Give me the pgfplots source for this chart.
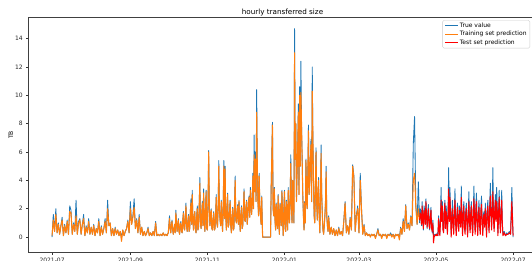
\documentclass[border=0pt]{standalone}
\usepackage{pgfplots}
\pgfplotsset{compat=1.18}
\usepackage{pgfplotstable}
\usepackage{fontspec}
\setmainfont{DejaVu Sans}
\definecolor{mblue}{RGB}{31,119,180}
\definecolor{morange}{RGB}{255,127,14}
\definecolor{mred}{RGB}{255,0,0}
% d = days since 2021-07-01, t = true value, p = prediction (train < 291 <= test)
\pgfplotstableread{
d t p
0 0.0 0.1
1 1.6 1.2
2 0.4 0.4
3 2.0 1.6
4 0.3 0.3
5 1.0 0.9
6 0.2 0.2
7 0.8 0.8
8 1.4 1.2
9 0.1 0.1
10 0.9 0.8
11 0.3 0.3
12 1.2 1.1
13 0.2 0.2
14 2.2 1.8
15 1.9 1.7
16 0.2 0.2
17 1.0 0.9
18 0.4 0.4
19 2.6 1.5
20 0.2 0.2
21 1.1 1.0
22 1.3 1.2
23 0.2 0.2
24 0.9 0.9
25 1.6 1.3
26 0.1 0.1
27 0.8 0.7
28 0.3 0.3
29 1.3 1.1
30 0.2 0.2
31 0.7 0.7
32 0.2 0.2
33 0.9 0.8
34 0.1 0.1
35 0.6 0.6
36 0.3 0.3
37 1.3 1.1
38 0.1 0.1
39 0.8 0.7
40 0.2 0.2
41 0.6 0.6
42 1.3 1.1
43 0.3 0.3
44 2.6 2.0
45 0.8 0.8
46 1.0 1.0
47 0.1 0.1
48 0.6 0.6
49 0.1 0.1
50 0.7 0.6
51 0.2 0.2
52 0.5 0.5
53 0.1 0.1
54 0.4 0.4
55 0.0 -0.3
56 0.5 0.5
57 0.1 0.1
58 0.4 0.4
59 0.6 0.6
60 1.2 1.1
61 0.3 0.3
62 2.5 2.0
63 0.9 0.9
64 1.5 1.4
65 2.7 2.1
66 0.6 0.6
67 1.3 1.2
68 0.3 0.3
69 1.6 1.4
70 0.2 0.2
71 0.7 0.7
72 0.1 0.1
73 0.4 0.4
74 0.1 0.1
75 0.3 0.3
76 0.7 0.6
77 0.1 0.1
78 0.3 0.3
79 0.1 0.1
80 0.4 0.4
81 0.1 0.1
82 1.1 1.0
83 0.1 0.1
84 0.2 0.2
85 0.1 0.1
86 0.2 0.2
87 0.1 0.1
88 0.3 0.3
89 0.1 0.1
90 0.2 0.2
91 0.1 0.1
92 0.3 0.3
93 1.5 1.3
93.5 0.6 0.6
94 0.3 0.3
94.5 0.9 0.9
95 1.2 1.1
95.5 0.5 0.5
96 0.2 0.2
96.5 0.6 0.6
97 0.9 0.9
97.5 0.3 0.3
98 1.9 1.7
98.5 1.1 1.1
99 0.4 0.4
99.5 0.8 0.8
100 1.3 1.2
100.5 0.4 0.4
101 0.2 0.2
101.5 0.9 0.9
102 1.1 1.0
102.5 0.4 0.4
103 0.3 0.3
103.5 1.2 1.2
104 1.8 1.7
104.5 0.6 0.6
105 0.5 0.5
105.5 1.5 1.4
106 2.4 2.2
106.5 0.8 0.8
107 0.4 0.4
107.5 1.1 1.1
108 1.6 1.5
108.5 0.4 0.4
109 0.6 0.6
109.5 1.9 1.8
110 2.7 2.4
110.5 0.9 0.9
111 3.3 3.0
111.5 1.2 1.2
112 0.5 0.5
112.5 1.4 1.4
113 1.8 1.8
113.5 0.6 0.6
114 0.3 0.3
114.5 1.5 1.4
115 2.2 2.0
115.5 0.5 0.5
116 0.7 0.7
116.5 2.3 2.2
117 4.2 3.8
117.5 1.0 1.0
118 0.6 0.6
118.5 1.6 1.6
119 2.5 2.4
119.5 0.8 0.8
120 3.4 3.1
120.5 1.2 1.2
121 0.4 0.4
121.5 2.0 1.9
122 3.3 3.2
122.5 0.6 0.6
123 0.5 0.5
123.5 2.5 2.4
124 6.1 6.0
124.5 2.2 2.2
125 0.8 0.8
125.5 1.4 1.4
126 2.0 1.9
126.5 0.6 0.6
127 0.5 0.5
127.5 1.3 1.3
128 1.8 1.7
128.5 0.5 0.5
129 0.6 0.6
129.5 1.6 1.6
130 3.0 2.8
130.5 1.0 1.0
131 0.7 0.7
131.5 2.1 2.0
132 5.4 5.0
132.5 2.0 2.0
133 1.2 1.2
133.5 0.8 0.8
134 2.6 2.5
134.5 1.2 1.2
135 0.4 0.4
135.5 2.2 2.1
136 5.4 5.0
136.5 1.3 1.3
137 5.0 4.8
137.5 1.6 1.6
138 0.5 0.5
138.5 1.8 1.8
139 3.1 3.0
139.5 0.7 0.7
140 0.9 0.9
140.5 1.9 1.8
141 2.6 2.5
141.5 0.8 0.8
142 0.3 0.3
142.5 1.4 1.4
143 2.1 2.0
143.5 0.5 0.5
144 0.6 0.6
144.5 2.5 2.4
145 4.3 4.0
145.5 1.2 1.2
146 1.0 1.0
146.5 1.7 1.7
147 2.3 2.2
147.5 0.9 0.9
148 2.6 2.5
148.5 1.3 1.3
149 0.4 0.4
149.5 1.6 1.6
150 2.2 2.1
150.5 0.6 0.6
151 0.8 0.8
151.5 2.0 2.0
152 3.4 3.2
152.5 1.2 1.2
153 1.1 1.1
153.5 2.1 2.1
154 2.6 2.5
154.5 0.9 0.9
155 1.5 1.5
155.5 2.5 2.4
156 2.9 2.8
156.5 1.4 1.4
157 3.5 3.3
157.5 2.4 2.4
158 1.6 1.6
158.5 2.8 2.7
159 4.5 4.3
159.5 2.0 2.0
160 7.2 5.8
160.5 3.2 3.2
161 6.0 5.5
161.5 2.5 2.5
162 10.4 8.8
162.5 5.0 5.0
163 2.5 2.5
163.5 1.5 1.5
164 4.5 4.3
164.5 2.2 2.2
165 1.6 1.6
165.5 0.9 0.9
166 2.9 2.8
166.7 0.0 0.0
173 0.0 0.0
173.5 3.8 3.5
174.5 8.1 7.9
175 2.0 2.0
175.5 1.5 1.5
176 3.5 3.4
176.5 1.2 1.2
177 0.5 0.5
177.5 2.4 2.3
178 1.3 1.2
178.5 0.6 0.6
179 3.0 2.9
179.5 1.1 1.1
180 0.2 0.2
180.5 2.4 2.3
181 1.8 1.7
181.5 0.8 0.8
182 3.3 3.2
182.5 1.5 1.5
183 0.1 0.1
183.5 1.9 1.9
184 3.3 3.2
184.5 0.6 0.6
185 0.4 0.4
185.5 2.6 2.5
186 1.8 1.7
186.5 0.5 0.5
187 3.5 3.3
187.5 1.6 1.6
188 1.0 1.0
188.5 2.8 2.8
189 5.8 5.2
189.5 2.2 2.2
190 1.0 1.0
190.5 4.0 4.0
191 3.3 3.2
191.5 1.0 1.0
192 14.7 13.0
192.5 5.5 5.5
193 8.0 8.0
193.5 2.5 2.5
194 4.5 4.5
194.5 6.5 6.5
195 9.4 8.8
195.5 3.0 3.0
196 10.6 10.0
196.5 5.0 5.0
197 12.4 10.2
197.5 8.0 8.0
198 5.5 5.5
198.5 3.0 3.0
199 1.5 1.5
199.5 0.5 0.5
200 2.5 2.4
200.5 1.0 1.0
201 5.5 5.4
201.5 3.0 3.0
202 2.0 2.0
202.5 4.5 4.5
203 7.9 7.5
203.5 3.0 3.0
204 4.0 4.0
204.5 5.5 5.5
205 6.9 6.5
205.5 2.5 2.5
206 12.0 10.3
206.5 7.0 7.0
207 4.0 4.0
207.5 1.5 1.5
208 1.0 1.0
208.5 3.5 3.5
209 6.3 6.0
209.5 2.5 2.5
210 1.2 1.2
210.5 3.0 3.0
211 4.2 4.0
211.5 1.5 1.5
212 0.3 0.3
212.5 2.5 2.5
213 6.5 5.9
213.5 3.0 3.0
214 1.5 1.5
214.5 0.5 0.5
215 0.2 0.2
215.5 0.8 0.8
216 1.5 1.5
216.5 2.5 2.5
217 5.0 4.6
217.5 1.5 1.5
218 0.8 0.8
218.5 0.4 0.4
219 1.5 1.4
220 0.2 0.2
221 0.7 0.7
222 0.2 0.2
223 0.6 0.6
224 0.1 0.1
225 0.5 0.5
226 0.1 0.1
227 0.7 0.6
228 0.2 0.2
229 0.4 0.4
230 0.1 0.1
231 1.2 1.1
232 2.5 2.4
233 0.3 0.3
234 0.8 0.8
235 0.2 0.2
236 1.4 1.3
237 0.5 0.5
238 5.1 5.0
239 4.3 4.1
240 0.4 0.4
241 1.6 1.5
242 2.2 2.0
243 0.3 0.3
244 4.5 4.0
245 2.0 1.9
246 0.2 0.2
247 0.9 0.8
248 0.1 0.1
249 0.3 0.3
250 0.1 0.1
251 0.2 0.2
252 0.1 0.0
253 0.2 0.2
254 0.1 0.1
255 0.2 0.2
256 0.0 -0.1
257 0.2 0.2
258 0.6 0.5
259 0.1 0.1
260 0.2 0.2
261 0.0 -0.1
262 0.2 0.2
263 0.1 0.1
264 0.2 0.2
265 0.0 -0.1
266 0.2 0.2
267 0.1 0.1
268 0.3 0.2
269 0.1 0.0
270 0.2 0.2
271 0.0 -0.1
272 0.2 0.2
273 0.1 0.1
274 0.2 0.2
275 0.0 -0.2
276 0.7 0.6
277 0.2 0.2
278 1.3 1.1
279 0.4 0.4
280 2.3 2.2
281 0.6 0.6
282 1.0 0.9
283 0.5 0.5
284 1.5 1.4
285 0.8 0.8
286 6.6 4.0
287 8.5 4.5
288 2.2 2.2
289 0.9 0.9
290 3.9 2.0
291 1.0 1.2
291.5 2.0 1.7
292 1.8 1.5
292.5 0.8 0.9
293 2.5 2.2
293.5 1.3 1.2
294 0.5 0.6
294.5 2.2 1.9
295 1.9 1.6
295.5 0.9 0.9
296 2.7 2.5
296.5 1.5 1.4
297 0.6 0.7
297.5 1.8 1.6
298 2.3 2.0
298.5 0.9 0.8
299 0.5 0.6
299.5 1.6 1.4
300 2.1 1.9
300.5 0.7 0.6
301 0.3 0.4
301.5 1.2 1.0
302 0.1 -0.4
302.5 0.1 0.0
303 0.2 0.1
303.5 0.2 0.1
304 0.1 0.2
304.5 0.2 0.1
305 0.3 0.2
305.5 0.1 0.1
306 1.5 1.3
306.5 0.8 0.6
307 0.2 0.1
307.5 1.3 1.0
308 3.5 2.6
308.5 1.2 1.1
309 2.5 2.2
309.5 0.6 0.5
310 0.4 0.3
310.5 1.9 1.7
311 2.6 2.4
311.5 0.7 0.6
312 2.2 1.8
312.5 1.5 1.3
313 0.3 0.2
313.5 1.8 1.5
314 4.9 3.4
314.5 1.2 1.1
315 3.5 2.8
315.5 1.9 1.7
316 0.2 0.0
316.5 1.4 1.2
317 2.6 2.0
317.5 0.9 0.8
318 0.5 0.2
318.5 2.0 1.7
319 3.4 2.6
319.5 1.2 1.0
320 0.3 0.1
320.5 1.6 1.4
321 2.4 2.1
321.5 0.9 0.8
322 0.6 0.4
322.5 2.2 1.9
323 1.9 1.6
323.5 0.8 0.7
324 3.6 2.8
324.5 1.5 1.3
325 0.3 0.1
325.5 1.8 1.6
326 2.5 2.2
326.5 0.8 0.7
327 0.4 0.2
327.5 1.9 1.6
328 2.4 2.0
328.5 1.0 0.9
329 0.2 0.0
329.5 1.7 1.5
330 3.2 2.5
330.5 1.2 1.0
331 0.5 0.3
331.5 2.0 1.7
332 2.5 2.2
332.5 0.9 0.8
333 0.3 0.1
333.5 1.8 1.6
334 3.6 2.7
334.5 1.4 1.2
335 0.4 0.2
335.5 2.2 1.9
336 3.1 2.5
336.5 1.0 0.9
337 0.3 0.1
337.5 1.7 1.5
338 2.6 2.1
338.5 0.9 0.8
339 0.4 0.2
339.5 2.0 1.8
340 2.9 2.3
340.5 1.1 1.0
341 0.3 0.1
341.5 1.6 1.4
342 1.8 1.6
342.5 0.8 0.7
343 2.4 2.0
343.5 1.2 1.0
344 0.2 0.0
344.5 1.9 1.7
345 2.6 2.2
345.5 1.1 1.0
346 0.5 0.3
346.5 2.4 2.1
347 3.8 2.9
347.5 1.6 1.5
348 0.7 0.5
348.5 2.3 2.0
349 4.9 3.2
349.5 1.5 1.3
350 0.6 0.4
350.5 2.0 1.9
351 3.0 2.6
351.5 1.2 1.1
352 3.5 2.5
352.5 2.0 1.8
353 0.3 0.1
353.5 1.8 1.6
354 3.3 2.8
354.5 1.3 1.2
355 0.5 0.3
355.5 2.0 1.8
356 3.3 2.6
356.5 1.0 0.9
357 0.2 0.1
358 0.4 0.3
359 0.1 0.1
360 0.3 0.2
361 0.2 0.2
362 0.4 0.3
363 0.2 0.2
364 3.5 2.5
365 0.0 0.1
}\datatab

\begin{document}
\begin{tikzpicture}
\begin{axis}[
  at={(0,0)}, anchor=south west,
  scale only axis, width=508.4pt, height=235.4pt,
  xmin=-18.8, xmax=383.7, ymin=-1.1, ymax=15.5,
  xtick={0,62,123,184,243,304,365},
  xticklabels={2021-07,2021-09,2021-11,2022-01,2022-03,2022-05,2022-07},
  ytick={0,2,4,6,8,10,12,14},
  tick align=outside, tick pos=left,
  major tick length=2.1pt,
  tick style={black!80, line width=0.5pt},
  axis line style={black!75, line width=0.5pt},
  ticklabel style={font=\fontsize{6}{7}\selectfont, text=black!85},
  /pgf/number format/assume math mode=true,
  title={hourly transferred size},
  title style={font=\fontsize{7.2}{8}\selectfont, at={(axis description cs:0.5,1)}, anchor=base, yshift=-3.2pt, inner sep=0pt},
  ylabel={TB},
  ylabel style={font=\fontsize{6}{7}\selectfont, at={(axis description cs:0,0.5)}, anchor=center, yshift=17.3pt},
  legend style={at={(rel axis cs:0.987,0.9885)}, anchor=north east, font=\fontsize{6}{7}\selectfont, draw=black!20, rounded corners=1.5pt, inner xsep=2pt, inner ysep=1pt, fill=white, fill opacity=0.8, text opacity=1, nodes={inner sep=1.3pt}, cells={anchor=west}},
  legend image code/.code={\draw[#1, line width=0.9pt] (0pt,0pt) -- (13pt,0pt);},
  every axis plot/.append style={line join=round},
]
\addplot[mblue, line width=0.85pt] table[x=d,y=t]{\datatab};
\addplot[morange, line width=1.05pt, restrict x to domain=0:291] table[x=d,y=p]{\datatab};
\addplot[mred, line width=1.0pt, restrict x to domain=291:366] table[x=d,y=p]{\datatab};
\legend{True value, Training set prediction, Test set prediction}
\end{axis}
\pgfresetboundingbox
\path[use as bounding box] (-28.3pt,-8.3pt) rectangle (503.7pt,252.7pt);
\end{tikzpicture}
\end{document}
